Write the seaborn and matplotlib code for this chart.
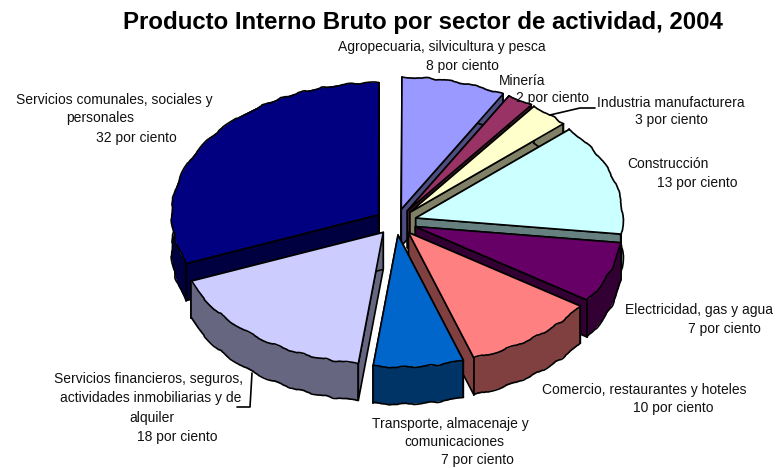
import numpy as np
import matplotlib as mpl

mpl.use('Agg')
import matplotlib.pyplot as plt
from matplotlib.patches import Polygon
import seaborn as sns

sectors = ['Agropecuaria', 'Mineria', 'Industria', 'Construccion', 'Electricidad',
           'Comercio', 'Transporte', 'Financieros', 'Comunales']
shares = [8, 2, 3, 13, 7, 10, 7, 18, 32]
top_colors = ['#9999FF', '#993366', '#FFFFCC', '#CCFFFF', '#660066',
              '#FF8080', '#0066CC', '#CCCCFF', '#000080']

title = 'Producto Interno Bruto por sector de actividad, 2004'
label_lines = ['Agropecuaria, silvicultura y pesca', '8 por ciento',
               'Minería', '2 por ciento',
               'Industria manufacturera', '3 por ciento',
               'Construcción', '13 por ciento',
               'Electricidad, gas y agua', '7 por ciento',
               'Comercio, restaurantes y hoteles', '10 por ciento',
               'Transporte, almacenaje y', 'comunicaciones', '7 por ciento',
               'Servicios financieros, seguros,', 'actividades inmobiliarias y de',
               'alquiler', '18 por ciento',
               'Servicios comunales, sociales y', 'personales', '32 por ciento']
label_x = [442, 462, 522, 553, 671, 671, 668, 697, 699, 724, 644, 673,
           450, 454, 477, 148, 151, 152, 177, 114, 100, 136]
label_y = [47, 66, 81, 98, 103, 120, 164, 183, 310, 329, 390, 408,
           424, 442, 460, 379, 398, 418, 437, 100, 118, 138]

# pie geometry, in pixels of the picture
CX, CY = 396, 222
RX, RY = 207, 132
DEPTH = 37
EXPLODE = 0.1
LW = 1.2


def view_angle(deg):
    # old spreadsheet 3d view leans the front slices a bit
    return deg + 7 * np.exp(-((deg - 170) / 90) ** 2)


def project(deg, radius=1.0, cx=CX, cy=CY):
    rad = np.radians(view_angle(np.asarray(deg, dtype=float)))
    return cx + radius * RX * np.sin(rad), cy - radius * RY * np.cos(rad)


def wavy(ax, xs, ys, z):
    # the outline of the rim is a bit rough in the original
    line, = ax.plot(xs, ys, color='black', lw=LW, solid_capstyle='round', zorder=z)
    line.set_sketch_params(scale=0.8, length=45, randomness=8)


sns.set_theme(style='white')
plt.rcParams['font.family'] = ['Liberation Sans', 'DejaVu Sans']

figure, axis = plt.subplots(figsize=(7.76, 4.68), dpi=100)
figure.subplots_adjust(0, 0, 1, 1)
axis.set_xlim(0, 776)
axis.set_ylim(468, 0)
axis.axis('off')

palette = sns.color_palette(top_colors)
edges = np.cumsum([0] + shares) / sum(shares) * 360
mids = (edges[:-1] + edges[1:]) / 2

# paint from the back to the front
z = 2
for i in np.argsort(-np.cos(np.radians(mids))):
    start, end, mid = edges[i], edges[i + 1], mids[i]
    top = palette[i]
    side = tuple(c / 2 for c in top)
    apex_x, apex_y = project(mid, EXPLODE)
    rim = np.append(np.arange(start, end, 1.0), end)
    rx, ry = project(rim, 1.0, apex_x, apex_y)

    # cut faces, then the outer wall
    for k in (0, -1):
        axis.add_patch(Polygon(np.column_stack([[apex_x, rx[k], rx[k], apex_x],
                                                [apex_y, ry[k], ry[k] + DEPTH, apex_y + DEPTH]]),
                               closed=True, facecolor=side, edgecolor='black', lw=LW,
                               joinstyle='round', zorder=z))
    z += 1
    axis.fill(np.r_[rx, rx[::-1]], np.r_[ry, ry[::-1] + DEPTH], color=side, lw=0, zorder=z)
    z += 1
    wavy(axis, rx, ry + DEPTH, z)
    axis.plot([rx[0], rx[0]], [ry[0], ry[0] + DEPTH], color='black', lw=LW, zorder=z)
    axis.plot([rx[-1], rx[-1]], [ry[-1], ry[-1] + DEPTH], color='black', lw=LW, zorder=z)
    z += 1

    # top of the slice
    axis.fill(np.r_[apex_x, rx], np.r_[apex_y, ry], color=top, lw=0, zorder=z)
    z += 1
    axis.plot([rx[0], apex_x, rx[-1]], [ry[0], apex_y, ry[-1]], color='black', lw=LW,
              solid_joinstyle='round', zorder=z)
    wavy(axis, rx, ry, z)
    z += 1

# leader lines
axis.plot([550, 580, 595], [115, 108, 108], color='black', lw=1.2, zorder=z)
axis.plot([252, 250, 237], [373, 407, 407], color='black', lw=1.2, zorder=z)

for text, x, y in zip(label_lines, label_x, label_y):
    axis.text(x, y, text, ha='center', va='center', fontsize=10, color='#111111', zorder=z + 1)
axis.text(423, 22, title, ha='center', va='center', fontsize=17.3, fontweight='bold',
          color='black', zorder=z + 1)

figure.savefig('out.png', dpi=100)
